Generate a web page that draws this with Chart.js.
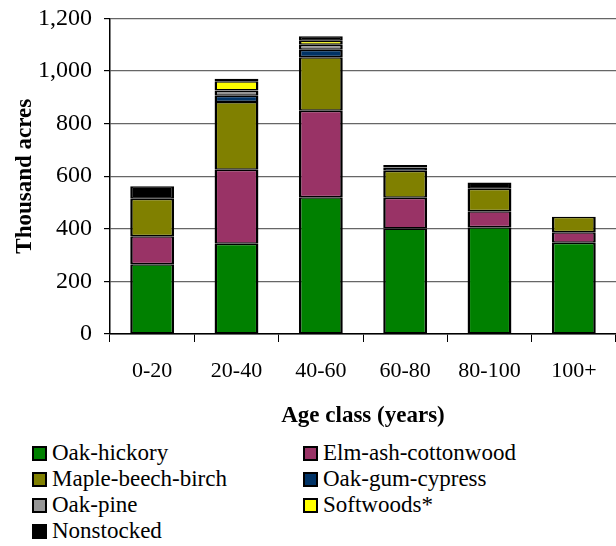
<!DOCTYPE html>
<html>
<head>
<meta charset="utf-8">
<script src="https://cdn.jsdelivr.net/npm/chart.js@4"></script>
<style>
  body { margin: 0; background: #fff; font-family: "Liberation Serif", "Times New Roman", serif; overflow: hidden; }
  #wrap { position: relative; width: 616px; height: 546px; overflow: hidden; }
  #chart { position: absolute; left: 0; top: -8px; }
  .legend { position: absolute; font-size: 23px; color: #000; line-height: 26px; }
  .legend div { display: flex; align-items: center; height: 26px; white-space: nowrap; }
  .legend span.box { width: 15px; height: 15px; box-sizing: border-box; border: 2px solid #000; margin-right: 5px; }
</style>
</head>
<body>
<div id="wrap">
  <canvas id="chart" width="616" height="440"></canvas>
  <div class="legend" id="leg1" style="left:32px; top:440px;"></div>
  <div class="legend" id="leg2" style="left:303px; top:440px;"></div>
</div>
<script>
const ageClasses = ['0-20', '20-40', '40-60', '60-80', '80-100', '100+'];
const oakHickory = [265, 343, 520, 401, 406, 347];
const elmAshCottonwood = [107, 282, 329, 117, 61, 40];
const mapleBeechBirch = [142, 257, 203, 103, 85, 59];
const oakGumCypress = [null, 24, 29, 12, null, null];
const oakPine = [null, 20, 19, null, null, null];
const softwoods = [null, 35, 15, null, null, null];
const nonstocked = [48, 10, 17, 10, 24, null];

const series = [
  { label: 'Oak-hickory', data: oakHickory, color: '#008000' },
  { label: 'Elm-ash-cottonwood', data: elmAshCottonwood, color: '#993366' },
  { label: 'Maple-beech-birch', data: mapleBeechBirch, color: '#808000' },
  { label: 'Oak-gum-cypress', data: oakGumCypress, color: '#003366' },
  { label: 'Oak-pine', data: oakPine, color: '#969696' },
  { label: 'Softwoods*', data: softwoods, color: '#FFFF00' },
  { label: 'Nonstocked', data: nonstocked, color: '#000000' }
];

// legend in two columns, like the original
const col1 = [0, 2, 4, 6], col2 = [1, 3, 5];
const fillCol = (id, idx) => {
  document.getElementById(id).innerHTML = idx.map(i =>
    `<div><span class="box" style="background:${series[i].color}"></span>${series[i].label}</div>`
  ).join('');
};
fillCol('leg1', col1);
fillCol('leg2', col2);

const serif = 'Liberation Serif';

new Chart(document.getElementById('chart'), {
  type: 'bar',
  data: {
    labels: ageClasses,
    datasets: series.map(s => ({
      label: s.label,
      data: s.data,
      backgroundColor: s.color,
      borderColor: '#000',
      borderWidth: { top: 1.5, bottom: 1.5, left: 2.5, right: 2.5 },
      borderSkipped: false,
      categoryPercentage: 1,
      barPercentage: 0.52
    }))
  },
  options: {
    responsive: false,
    animation: false,
    layout: { padding: { top: 0, right: 0, left: 7, bottom: 0 } },
    plugins: { legend: { display: false }, tooltip: { enabled: false } },
    scales: {
      x: {
        stacked: true,
        border: { color: '#000', width: 1.5 },
        grid: { drawOnChartArea: false, color: '#000', tickLength: 8, offset: true },
        ticks: { color: '#000', font: { family: serif, size: 22 }, padding: 16, maxRotation: 0 },
        title: { display: true, text: 'Age class (years)', color: '#000',
                 font: { family: serif, size: 23, weight: 'bold' }, padding: { top: 14, bottom: 2 } },
        afterFit: s => { s.height = 98; }
      },
      y: {
        stacked: true,
        min: 0, max: 1200,
        border: { color: '#000', width: 1.5 },
        grid: { color: '#666', lineWidth: 1.2, tickLength: 6, tickColor: '#000' },
        ticks: { stepSize: 200, color: '#000', font: { family: serif, size: 24 }, padding: 12,
                 callback: v => v.toLocaleString('en-US') },
        title: { display: true, text: 'Thousand acres', color: '#000',
                 font: { family: serif, size: 23, weight: 'bold' }, padding: { bottom: 4 } },
        afterFit: s => { s.width = 103; }
      }
    }
  }
});
</script>
</body>
</html>
